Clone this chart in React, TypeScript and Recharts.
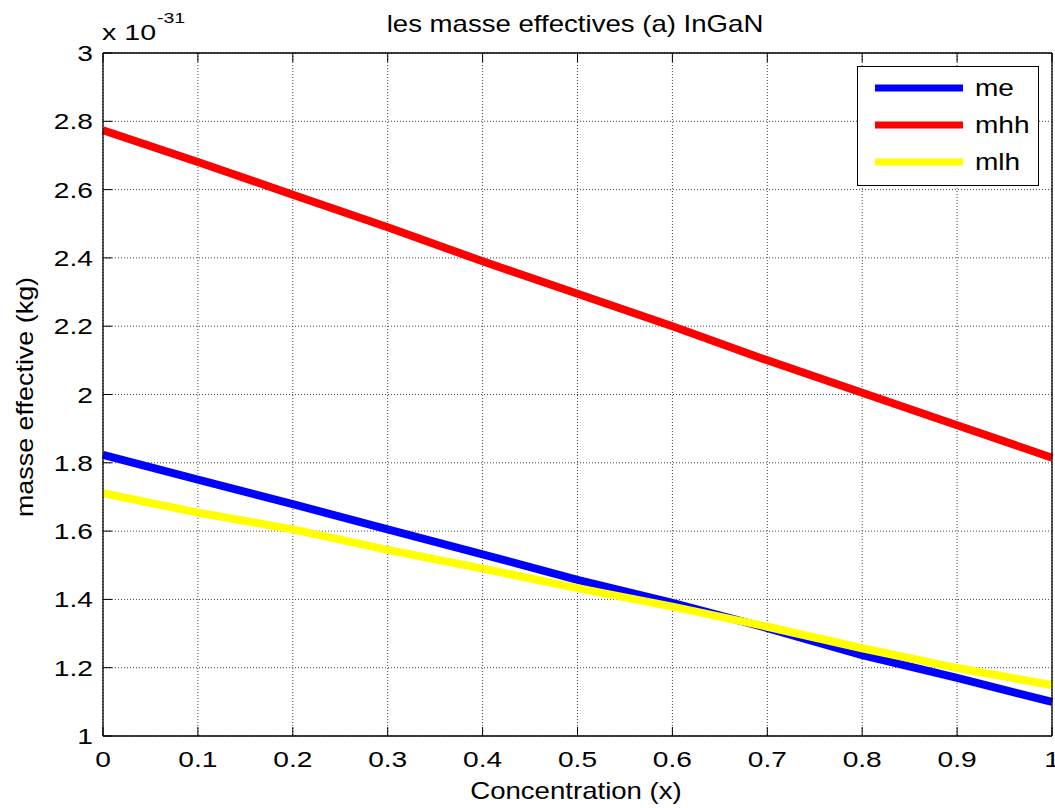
import React from 'react';
import { LineChart, Line, XAxis, YAxis, CartesianGrid, Legend } from 'recharts';

const concentration = [0, 0.1, 0.2, 0.3, 0.4, 0.5, 0.6, 0.7, 0.8, 0.9, 1];
const me = [1.823, 1.751, 1.679, 1.605, 1.532, 1.457, 1.39, 1.316, 1.237, 1.17, 1.1];
const mhh = [2.774, 2.681, 2.585, 2.49, 2.39, 2.295, 2.2, 2.1, 2.005, 1.91, 1.815];
const mlh = [1.711, 1.654, 1.605, 1.545, 1.49, 1.433, 1.379, 1.32, 1.257, 1.199, 1.149];

const xTicks = [0, 0.1, 0.2, 0.3, 0.4, 0.5, 0.6, 0.7, 0.8, 0.9, 1];
const xTickLabels = ['0', '0.1', '0.2', '0.3', '0.4', '0.5', '0.6', '0.7', '0.8', '0.9', '1'];
const yTicks = [1, 1.2, 1.4, 1.6, 1.8, 2, 2.2, 2.4, 2.6, 2.8, 3];
const yTickLabels = ['1', '1.2', '1.4', '1.6', '1.8', '2', '2.2', '2.4', '2.6', '2.8', '3'];

const seriesInfo = [
  { key: 'me', color: '#0000ff' },
  { key: 'mhh', color: '#ff0000' },
  { key: 'mlh', color: '#ffff00' },
];

const data = concentration.map((c, i) => ({ x: c, me: me[i], mhh: mhh[i], mlh: mlh[i] }));

const FONT = '"Liberation Sans", Arial, Helvetica, sans-serif';
const TICK_LEN = 9;
const TICK_SCALE = 1.28;

const BottomTick = (props: any) => {
  const { x, y, payload } = props;
  const idx = xTicks.indexOf(payload.value);
  const label = idx >= 0 ? xTickLabels[idx] : String(payload.value);
  return (
    <g>
      <line x1={x} y1={y} x2={x} y2={y - TICK_LEN} stroke="#000" strokeWidth={1} />
      <text
        transform={`translate(${x},${y + 31}) scale(${TICK_SCALE},1)`}
        textAnchor="middle"
        fontFamily={FONT}
        fontSize={22}
        fill="#000"
      >
        {label}
      </text>
    </g>
  );
};

const TopTick = (props: any) => {
  const { x, y } = props;
  return <line x1={x} y1={y} x2={x} y2={y + TICK_LEN} stroke="#000" strokeWidth={1} />;
};

const LeftTick = (props: any) => {
  const { x, y, payload } = props;
  const idx = yTicks.indexOf(payload.value);
  const label = idx >= 0 ? yTickLabels[idx] : String(payload.value);
  return (
    <g>
      <line x1={x} y1={y} x2={x + TICK_LEN} y2={y} stroke="#000" strokeWidth={1} />
      <text
        transform={`translate(${x - 10},${y + 8}) scale(${TICK_SCALE},1)`}
        textAnchor="end"
        fontFamily={FONT}
        fontSize={22}
        fill="#000"
      >
        {label}
      </text>
    </g>
  );
};

const RightTick = (props: any) => {
  const { x, y } = props;
  return <line x1={x} y1={y} x2={x - TICK_LEN} y2={y} stroke="#000" strokeWidth={1} />;
};

const LegendBox = () => (
  <svg width={182} height={120} style={{ display: 'block' }}>
    <rect x={0.5} y={0.5} width={181} height={119} fill="#fff" stroke="#000" strokeWidth={1} />
    {seriesInfo.map((s, i) => (
      <g key={s.key}>
        <line x1={18} x2={106} y1={22 + i * 37} y2={22 + i * 37} stroke={s.color} strokeWidth={7} />
        <text
          transform={`translate(118,${22 + i * 37 + 8}) scale(1.22,1)`}
          fontFamily={FONT}
          fontSize={23}
          fill="#000"
        >
          {s.key}
        </text>
      </g>
    ))}
  </svg>
);

export default function App() {
  return (
    <div style={{ position: 'absolute', left: 0, top: 0, width: 1055, height: 808, background: '#fff', fontFamily: FONT }}>
      <LineChart width={1055} height={808} data={data} margin={{ top: 52, right: 2, bottom: 71, left: 102 }}>
        <CartesianGrid
          xAxisId="b"
          yAxisId="l"
          stroke="#444"
          strokeDasharray="1 2"
          strokeWidth={1}
          horizontalValues={yTicks}
          verticalValues={xTicks}
        />
        <XAxis
          xAxisId="b"
          dataKey="x"
          type="number"
          domain={[0, 1]}
          ticks={xTicks}
          interval={0}
          height={1}
          tickSize={0}
          tickMargin={0}
          tickLine={false}
          tick={<BottomTick />}
          axisLine={{ stroke: '#000', strokeWidth: 1.3 }}
          orientation="bottom"
        />
        <XAxis
          xAxisId="t"
          dataKey="x"
          type="number"
          domain={[0, 1]}
          ticks={xTicks}
          interval={0}
          height={1}
          tickSize={0}
          tickMargin={0}
          tickLine={false}
          tick={<TopTick />}
          axisLine={{ stroke: '#000', strokeWidth: 1.3 }}
          orientation="top"
        />
        <YAxis
          yAxisId="l"
          type="number"
          domain={[1, 3]}
          ticks={yTicks}
          interval={0}
          width={1}
          tickSize={0}
          tickMargin={0}
          tickLine={false}
          tick={<LeftTick />}
          axisLine={{ stroke: '#000', strokeWidth: 1.3 }}
          orientation="left"
        />
        <YAxis
          yAxisId="r"
          type="number"
          domain={[1, 3]}
          ticks={yTicks}
          interval={0}
          width={1}
          tickSize={0}
          tickMargin={0}
          tickLine={false}
          tick={<RightTick />}
          axisLine={{ stroke: '#000', strokeWidth: 1.3 }}
          orientation="right"
        />
        {seriesInfo.map((s) => (
          <Line
            key={s.key}
            xAxisId="b"
            yAxisId="l"
            type="linear"
            dataKey={s.key}
            stroke={s.color}
            strokeWidth={8}
            dot={false}
            activeDot={false}
            isAnimationActive={false}
          />
        ))}
        <Legend
          layout="horizontal"
          verticalAlign="middle"
          align="center"
          content={() => <LegendBox />}
          wrapperStyle={{ left: 857, top: 66, width: 182, height: 120 }}
        />
        <text
          transform="translate(575,32) scale(1.2,1)"
          textAnchor="middle"
          fontFamily={FONT}
          fontSize={23}
          fill="#000"
        >
          les masse effectives (a) InGaN
        </text>
        <text
          transform="translate(576,799) scale(1.2,1)"
          textAnchor="middle"
          fontFamily={FONT}
          fontSize={23}
          fill="#000"
        >
          Concentration (x)
        </text>
        <text
          transform="translate(33,397) rotate(-90) scale(1.17,1.05)"
          textAnchor="middle"
          fontFamily={FONT}
          fontSize={23}
          fill="#000"
        >
          masse effective (kg)
        </text>
        <text transform="translate(102,40) scale(1.3,1)" fontFamily={FONT} fontSize={22} fill="#000">
          x 10
        </text>
        <text transform="translate(157,23) scale(1.3,1)" fontFamily={FONT} fontSize={15} fill="#000">
          -31
        </text>
      </LineChart>
    </div>
  );
}
